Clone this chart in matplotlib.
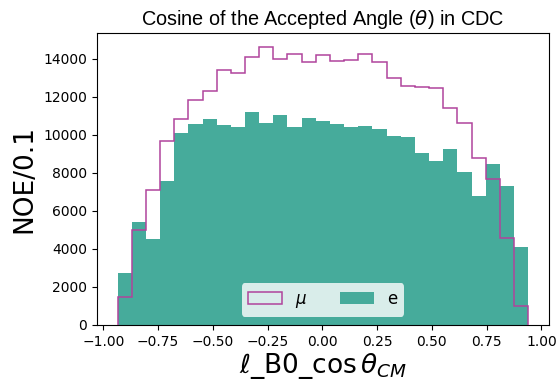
import matplotlib
matplotlib.use("Agg")
import matplotlib.pyplot as plt
import numpy as np

# bin edges of cos(theta_CM) and counts per bin
edges = np.linspace(-0.935, 0.94, 30)
counts_e = [2733, 5398, 4527, 7577, 10119, 10573, 10817, 10504, 10415, 11183,
            10642, 11043, 10400, 10869, 10730, 10556, 10400, 10452, 10328, 9946,
            9893, 9040, 8604, 9266, 8047, 6757, 8447, 7316, 4110]
counts_mu = [1463, 4998, 7105, 9666, 10834, 11826, 12297, 13412, 13273, 14110,
             14614, 13986, 14266, 13848, 14178, 13900, 13910, 14266, 13813, 12976,
             12558, 12506, 12480, 11408, 10642, 8759, 7682, 4599, 974]

centers = 0.5 * (edges[:-1] + edges[1:])

fig = plt.figure(figsize=(5.56, 3.81), dpi=100)
ax = fig.add_axes([0.1745, 0.147, 0.8125, 0.766])

ax.hist(centers, bins=edges, weights=counts_mu, histtype="step",
        color="#b0449c", linewidth=1.1, label=r"$\mu$", zorder=3)
ax.hist(centers, bins=edges, weights=counts_e, color="#46ab9b",
        label="e", zorder=2)

ax.set_title(r"Cosine of the Accepted Angle ($\theta$) in CDC",
             fontsize=14.3, family="Liberation Sans")
ax.set_ylabel("NOE/0.1", fontsize=19)
ax.set_xlabel(r"$\ell$_B0_$\cos\theta_{CM}$", fontsize=19, labelpad=2)
ax.tick_params(labelsize=10)

leg = ax.legend(loc="lower center", ncol=2, fontsize=12, fancybox=True,
                framealpha=0.8, edgecolor="none")

fig.savefig("out.png", dpi=100)
